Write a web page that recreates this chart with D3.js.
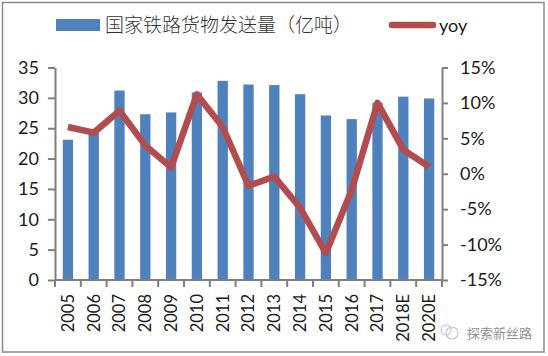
<!DOCTYPE html>
<html>
<head>
<meta charset="utf-8">
<script src="https://cdn.jsdelivr.net/npm/d3@7"></script>
<style>
    html, body { margin: 0; padding: 0; background: #fff; }
    svg { display: block; }
    text { font-family: Lato, "Open Sans", sans-serif; fill: #1a1a1a; }
    .cjk { font-family: "Noto Sans CJK SC", sans-serif; }
    .axis path, .axis line { stroke: #7f7f7f; stroke-width: 2px; }
</style>
</head>
<body>
<div id="chart"></div>
<script>
var years = ["2005", "2006", "2007", "2008", "2009", "2010", "2011", "2012", "2013", "2014", "2015", "2016", "2017", "2018E", "2020E"];
var freight = [23.1, 24.8, 31.2, 27.3, 27.6, 30.9, 32.8, 32.2, 32.1, 30.6, 27.1, 26.5, 29.2, 30.2, 29.9];
var yoy = [6.6, 5.8, 8.9, 4.0, 0.9, 11.2, 6.6, -1.7, -0.4, -4.8, -11.2, -2.3, 10.0, 3.4, 1.0];
var leftTicks = [0, 5, 10, 15, 20, 25, 30, 35];
var rightTicks = [-15, -10, -5, 0, 5, 10, 15];

var w = 548;
var h = 356;
var left = 55, right = 442, top_ = 67.5, bottom = 280;

var svg = d3.select("#chart")
    .append("svg")
    .attr("width", w)
    .attr("height", h);

// outer frame
svg.append("rect")
    .attr("x", 2.5)
    .attr("y", 2.5)
    .attr("width", 541.5)
    .attr("height", 349.5)
    .attr("fill", "#fff")
    .attr("stroke", "#8a8a8a")
    .attr("stroke-width", 1.5);

var xScale = d3.scaleBand().domain(years).range([left, right]).paddingInner(0.6).paddingOuter(0.3);
var xLabels = d3.scaleBand().domain(years).range([left, right]);
var yLeft = d3.scaleLinear().domain([0, 35]).range([bottom, top_]);
var yRight = d3.scaleLinear().domain([-15, 15]).range([bottom, top_]);

svg.selectAll(".bar")
    .data(freight)
    .enter().append("rect")
    .attr("class", "bar")
    .attr("x", function (d, i) { return xScale(years[i]); })
    .attr("y", function (d) { return yLeft(d); })
    .attr("width", xScale.bandwidth())
    .attr("height", function (d) { return bottom - yLeft(d); })
    .attr("fill", "#4f81bd");

// axes
var leftAxis = d3.axisLeft(yLeft).tickValues(leftTicks).tickSize(7).tickSizeOuter(0).tickPadding(9);
svg.append("g").attr("class", "axis").attr("transform", "translate(" + left + ",0)").call(leftAxis)
    .selectAll("text").style("font-size", "18px");

var rightAxis = d3.axisRight(yRight).tickValues(rightTicks).tickSize(6).tickSizeOuter(0).tickPadding(12)
    .tickFormat(function (d) { return d + "%"; });
svg.append("g").attr("class", "axis").attr("transform", "translate(" + right + ",0)").call(rightAxis)
    .selectAll("text").style("font-size", "18px");

var bottomAxis = d3.axisBottom(xLabels).tickSize(0).tickPadding(0);
var bx = svg.append("g").attr("class", "axis").attr("transform", "translate(0," + bottom + ")").call(bottomAxis);
bx.select(".domain").attr("d", "M" + left + ",0H" + right);
bx.selectAll("text")
    .style("font-size", "16.5px")
    .attr("text-anchor", "end")
    .attr("dy", "0.36em")
    .attr("transform", "translate(0,14) rotate(-90)")
    .attr("x", 0)
    .attr("y", 0);

// ticks sit between the categories
svg.append("g").attr("class", "axis")
    .selectAll("line")
    .data(d3.range(years.length + 1))
    .enter().append("line")
    .attr("x1", function (d) { return left + d * xLabels.step(); })
    .attr("x2", function (d) { return left + d * xLabels.step(); })
    .attr("y1", bottom)
    .attr("y2", bottom + 7);

var line = d3.line()
    .x(function (d, i) { return xLabels(years[i]) + xLabels.bandwidth() / 2; })
    .y(function (d) { return yRight(d); });

svg.append("path")
    .datum(yoy)
    .attr("d", line)
    .attr("fill", "none")
    .attr("stroke", "#b34c4e")
    .attr("stroke-width", 6.5)
    .attr("stroke-linejoin", "round");

// legend
svg.append("rect").attr("x", 56).attr("y", 19).attr("width", 44).attr("height", 12).attr("fill", "#4f81bd");
svg.append("text").attr("class", "cjk").attr("x", 105).attr("y", 32)
    .style("font-size", "19px").style("font-weight", 300).style("fill", "#333")
    .text("国家铁路货物发送量（亿吨）");
svg.append("line").attr("x1", 392).attr("x2", 433).attr("y1", 25).attr("y2", 25)
    .attr("stroke", "#b34c4e").attr("stroke-width", 6.5).attr("stroke-linecap", "round");
svg.append("text").attr("x", 439).attr("y", 32).style("font-size", "18px").text("yoy");

// watermark
var wm = svg.append("g").attr("fill", "none").attr("stroke", "#c4c4c4").attr("stroke-width", 1.1);
wm.append("circle").attr("cx", 446).attr("cy", 330).attr("r", 5);
wm.append("circle").attr("cx", 452).attr("cy", 333).attr("r", 6);
svg.append("text").attr("class", "cjk").attr("x", 467).attr("y", 338)
    .style("font-size", "13px").style("fill", "#8f8f8f")
    .text("探索新丝路");
</script>
</body>
</html>
